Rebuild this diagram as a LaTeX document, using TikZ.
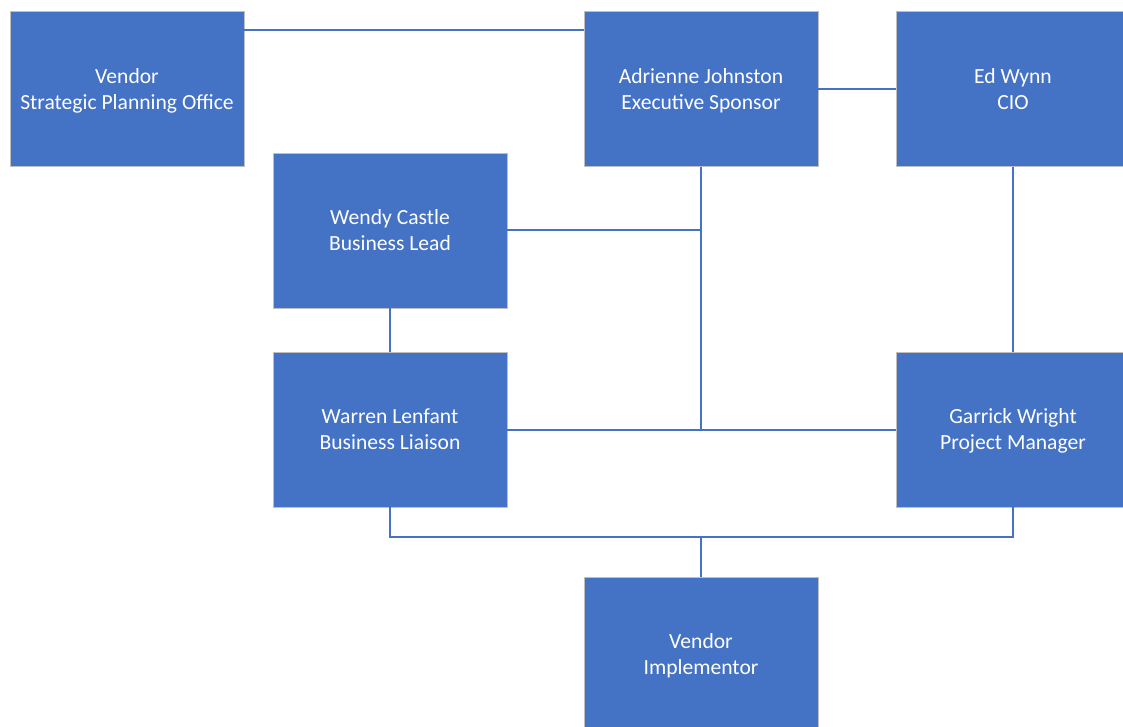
\documentclass[tikz,border=0pt]{standalone}
\usepackage{fontspec}
\setmainfont{Carlito}
\definecolor{boxblue}{HTML}{4472C4}
\definecolor{boxedge}{HTML}{BFBFBF}
\newcommand{\firststrut}{\rule{0pt}{22.2pt}}
\tikzset{
  person/.style={rectangle, fill=boxblue, draw=boxedge, line width=0.8pt,
    minimum width=234pt, minimum height=155pt, inner sep=0pt,
    text=white, align=center, font=\fontsize{21.6}{26}\selectfont},
  link/.style={draw=boxblue, line width=2pt}
}
\begin{document}
\begin{tikzpicture}[x=1pt,y=-1pt]
\useasboundingbox (0,0) rectangle (1123,727);
\begin{scope}
\clip (0,0) rectangle (1123,727);
\node[person] (spo) at (127,89) {\firststrut Vendor\\\strut Strategic Planning Office};
\node[person] (adr) at (701,89) {\firststrut Adrienne Johnston\\\strut Executive Sponsor};
\node[person] (ed) at (1013,89) {\firststrut Ed Wynn\\\strut CIO};
\node[person] (wendy) at (390,230.5) {\firststrut Wendy Castle\\\strut Business Lead};
\node[person] (warren) at (390,429.5) {\firststrut Warren Lenfant\\\strut Business Liaison};
\node[person] (garrick) at (1013,429.5) {\firststrut Garrick Wright\\\strut Project Manager};
\node[person] (impl) at (701,654.5) {\firststrut Vendor\\\strut Implementor};
\coordinate (bus) at (701,537);
\draw[link] ([yshift=-19pt]spo.north east) -- ([yshift=-19pt]adr.north west);
\draw[link] (adr.east) -- (ed.west);
\draw[link] (adr.south) -- (adr.south |- warren.east);
\draw[link] (wendy.east) -- (wendy.east -| adr.south);
\draw[link] (warren.east) -- (garrick.west);
\draw[link] (ed.south) -- (garrick.north);
\draw[link] (wendy.south) -- (warren.north);
\draw[link] (warren.south) -- (warren.south |- bus) -- (garrick.south |- bus) -- (garrick.south);
\draw[link] (bus) -- (impl.north);
\end{scope}
\end{tikzpicture}
\end{document}
